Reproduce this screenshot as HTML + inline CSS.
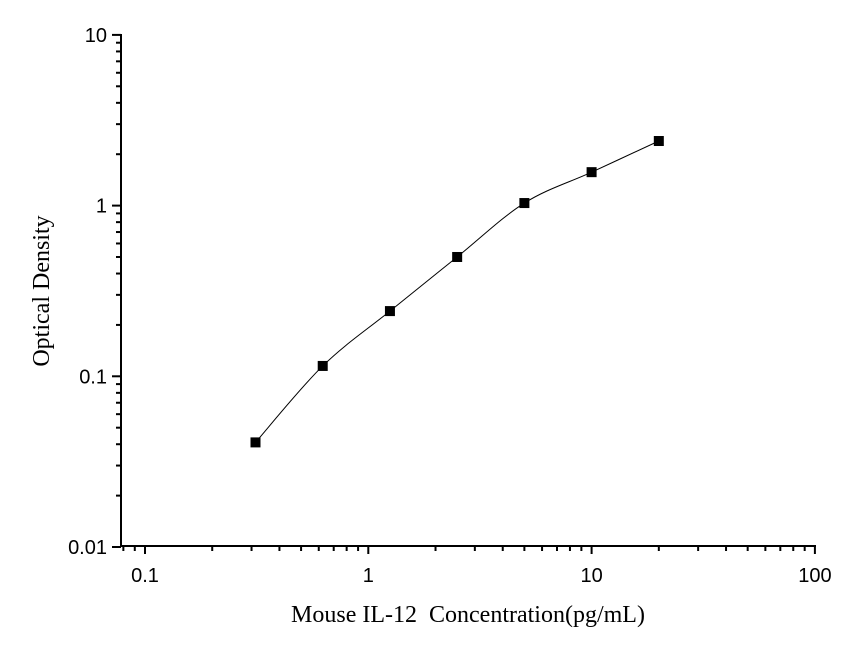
<!DOCTYPE html>
<html><head><meta charset="utf-8"><style>
body{margin:0;background:#fff;width:863px;height:645px;overflow:hidden}
svg text{font-family:"Liberation Sans",sans-serif;font-size:20px;fill:#000}
svg text.t{font-family:"Liberation Serif",serif;font-size:24px}
</style></head><body>
<svg id="c" width="863" height="645"></svg>
<script>
const concentrations=[0.3125,0.625,1.25,2.5,5,10,20];
const odValues=[0.041,0.115,0.241,0.50,1.035,1.57,2.39];
const xTickLabels=["0.1","1","10","100"];
const yTickLabels=["0.01","0.1","1","10"];
const NS="http://www.w3.org/2000/svg";
const svg=document.getElementById('c');
const X0=121,Y0=546;
const sx=v=>145+(Math.log10(v)+1)*223.3;
const sy=v=>547-(Math.log10(v)+2)*170.7;
function mk(t,a,p){const e=document.createElementNS(NS,t);for(const k in a)e.setAttribute(k,a[k]);(p||svg).appendChild(e);return e;}
const axes=mk('g',{});


const xa=mk('line',{x1:X0,y1:Y0,x2:816,y2:Y0,stroke:'#000','stroke-width':2},axes);


const ya=mk('line',{x1:X0,y1:Y0,x2:X0,y2:34,stroke:'#000','stroke-width':2},axes);


for(let d=-2;d<=1;d++)for(let m=1;m<10;m++){const v=m*Math.pow(10,d);const x=sx(v);if(x<X0-1||x>816)continue;
 const L=m==1?8:5;mk('line',{x1:x,y1:Y0,x2:x,y2:Y0+L,stroke:'#000','stroke-width':2},axes);}
mk('line',{x1:sx(100),y1:Y0,x2:sx(100),y2:Y0+8,stroke:'#000','stroke-width':2},axes);
xTickLabels.forEach(s=>{const t=mk('text',{x:sx(parseFloat(s)),y:Y0+36,'text-anchor':'middle'},axes);t.textContent=s;

});
for(let d=-2;d<=0;d++)for(let m=1;m<10;m++){const v=m*Math.pow(10,d);const y=sy(v);
 const L=m==1?9:5;mk('line',{x1:X0,y1:y,x2:X0-L,y2:y,stroke:'#000','stroke-width':2},axes);}
mk('line',{x1:X0,y1:sy(10),x2:X0-9,y2:sy(10),stroke:'#000','stroke-width':2},axes);
yTickLabels.forEach(s=>{const t=mk('text',{x:X0-14,y:sy(parseFloat(s))+7,'text-anchor':'end'},axes);t.textContent=s;

});
const P=concentrations.map((c,i)=>[sx(c),sy(odValues[i])]);
let d=`M${P[0][0]},${P[0][1]}`;
for(let i=0;i<P.length-1;i++){const p0=P[Math.max(0,i-1)],p1=P[i],p2=P[i+1],p3=P[Math.min(P.length-1,i+2)];
 d+=` C${p1[0]+(p2[0]-p0[0])/6},${p1[1]+(p2[1]-p0[1])/6} ${p2[0]-(p3[0]-p1[0])/6},${p2[1]-(p3[1]-p1[1])/6} ${p2[0]},${p2[1]}`;}
const cv=mk('path',{d:d,fill:'none',stroke:'#000','stroke-width':1});


P.forEach(p=>{const r=mk('rect',{x:p[0]-5,y:p[1]-5,width:10,height:10,fill:'#000'});

});
const xt=mk('text',{x:468,y:622,'text-anchor':'middle','class':'t'});xt.textContent='Mouse IL-12\u00a0 Concentration(pg/mL)';


const yt=mk('text',{x:0,y:0,'text-anchor':'middle','class':'t',transform:'translate(49,291) rotate(-90)'});yt.textContent='Optical Density';


</script>
</body></html>
